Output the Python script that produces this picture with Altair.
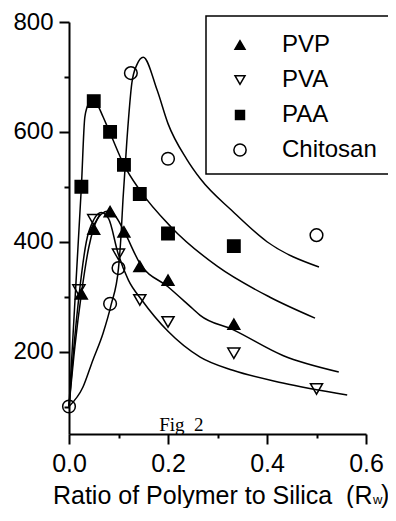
import altair as alt
import pandas as pd

series_names = ["PVP", "PVA", "PAA", "Chitosan"]
series_shapes = ["triangle-up", "triangle-down", "square", "circle"]
series_fills = ["black", "transparent", "black", "transparent"]
series_sizes = [140, 160, 150, 260]

# measured points
pvp_x = [0.025, 0.05, 0.083, 0.111, 0.143, 0.2, 0.333]
pvp_y = [305, 423, 455, 418, 355, 330, 250]
pva_x = [0.02, 0.05, 0.1, 0.143, 0.2, 0.333, 0.5]
pva_y = [312, 440, 377, 294, 254, 197, 132]
paa_x = [0.025, 0.05, 0.083, 0.111, 0.143, 0.2, 0.333]
paa_y = [500, 656, 600, 540, 487, 415, 392]
chi_x = [0.0, 0.083, 0.1, 0.125, 0.2, 0.5]
chi_y = [100, 287, 352, 707, 551, 412]

# fitted curves
pvp_fit_x = [0, 0.012, 0.025, 0.04, 0.05, 0.065, 0.08, 0.095, 0.113, 0.143, 0.2, 0.25, 0.265, 0.331, 0.432, 0.545]
pvp_fit_y = [100, 210, 305, 390, 425, 450, 456, 445, 416, 361, 318, 278, 266, 240, 193, 163]
pva_fit_x = [0, 0.01, 0.02, 0.035, 0.05, 0.065, 0.08, 0.099, 0.12, 0.147, 0.2, 0.265, 0.331, 0.432, 0.562]
pva_fit_y = [100, 210, 300, 400, 440, 453, 442, 379, 330, 294, 237, 190, 166, 143, 121]
paa_fit_x = [0, 0.01, 0.02, 0.025, 0.032, 0.04, 0.05, 0.06, 0.069, 0.083, 0.111, 0.143, 0.206, 0.3, 0.406, 0.497]
paa_fit_y = [100, 260, 420, 500, 627, 652, 660, 645, 627, 598, 540, 494, 427, 355, 299, 261]
chi_fit_x = [0, 0.028, 0.048, 0.069, 0.085, 0.1, 0.105, 0.109, 0.117, 0.127, 0.137, 0.15, 0.178, 0.2, 0.238, 0.265, 0.331, 0.4, 0.505]
chi_fit_y = [100, 135, 184, 234, 285, 352, 410, 476, 585, 689, 722, 736, 676, 615, 550, 515, 455, 400, 354]

x_ticks = [0.0, 0.1, 0.2, 0.3, 0.4, 0.5, 0.6]
y_ticks = [100, 200, 300, 400, 500, 600, 700, 800]

caption_text = ["Fig\u00a0\u00a02"]
caption_x = [0.227]
caption_y = [56]

FONT = "Liberation Sans"

pts_rows = []
for name, xs, ys in [("PVP", pvp_x, pvp_y), ("PVA", pva_x, pva_y),
                     ("PAA", paa_x, paa_y), ("Chitosan", chi_x, chi_y)]:
    for a, b in zip(xs, ys):
        pts_rows.append({"series": name, "x": a, "y": b})
pts = pd.DataFrame(pts_rows)

fit_rows = []
for name, xs, ys in [("PVP", pvp_fit_x, pvp_fit_y), ("PVA", pva_fit_x, pva_fit_y),
                     ("PAA", paa_fit_x, paa_fit_y), ("Chitosan", chi_fit_x, chi_fit_y)]:
    for i, (a, b) in enumerate(zip(xs, ys)):
        fit_rows.append({"series": name, "x": a, "y": b, "o": i})
fits = pd.DataFrame(fit_rows)

xscale = alt.Scale(domain=[0, 0.6], nice=False, zero=False)
yscale = alt.Scale(domain=[50, 800], nice=False, zero=False)

xaxis = alt.Axis(
    values=x_ticks, format=".1f",
    labelExpr="round(datum.value*10) % 2 === 0 ? datum.label : ''",
    tickSize={"condition": {"test": "round(datum.value*10) % 2 === 0", "value": 10}, "value": 4},
    labelFontSize=25, labelFont=FONT, labelColor="black", labelPadding=7,
    tickColor="black", tickWidth=2, domainColor="black", domainWidth=2,
    grid=False, labelFlush=False, labelOverlap=False,
    title="Ratio of Polymer to Silica\u00a0\u00a0(R", titleFont=FONT, titleFontSize=25,
    titleFontWeight="normal", titleColor="black", titleAlign="right",
    titleBaseline="alphabetic", titleX=303, titleY=69, titleAnchor="start",
)
yaxis = alt.Axis(
    values=y_ticks,
    labelExpr="datum.value % 200 === 0 ? datum.label : ''",
    tickSize={"condition": {"test": "datum.value % 200 === 0", "value": 10}, "value": 5},
    labelFontSize=24, labelFont=FONT, labelColor="black", labelPadding=6,
    tickColor="black", tickWidth=2, domainColor="black", domainWidth=2,
    grid=False, labelFlush=False, labelOverlap=False, title=None,
)

lines = alt.Chart(fits).mark_line(color="black", strokeWidth=1.5, interpolate="monotone").encode(
    x=alt.X("x:Q", scale=xscale, axis=xaxis),
    y=alt.Y("y:Q", scale=yscale, axis=yaxis),
    detail="series:N",
    order="o:Q",
)

points = alt.Chart(pts).mark_point(stroke="black", strokeWidth=1.5, opacity=1).encode(
    x=alt.X("x:Q", scale=xscale),
    y=alt.Y("y:Q", scale=yscale),
    shape=alt.Shape("series:N", scale=alt.Scale(domain=series_names, range=series_shapes), legend=None),
    fill=alt.Fill("series:N", scale=alt.Scale(domain=series_names, range=series_fills), legend=None),
    size=alt.Size("series:N", scale=alt.Scale(domain=series_names, range=series_sizes), legend=None),
)

caption = alt.Chart(pd.DataFrame({"t": caption_text, "x": caption_x, "y": caption_y})).mark_text(
    font="Liberation Serif", fontSize=19, color="black", align="center", baseline="alphabetic"
).encode(x=alt.X("x:Q", scale=xscale), y=alt.Y("y:Q", scale=yscale), text="t:N")

one = pd.DataFrame({"t": [""]})

sub_w = alt.Chart(pd.DataFrame({"t": ["w"]})).mark_text(
    font=FONT, fontSize=13, color="black", align="left", baseline="alphabetic"
).encode(x=alt.value(304), y=alt.value(482), text="t:N")

close_paren = alt.Chart(pd.DataFrame({"t": [")"]})).mark_text(
    font=FONT, fontSize=25, color="black", align="left", baseline="alphabetic"
).encode(x=alt.value(312), y=alt.value(481), text="t:N")

# legend (drawn by hand: box, symbols, labels)
legend_box = alt.Chart(one).mark_rect(fill="white", stroke="black", strokeWidth=1.5).encode(
    x=alt.value(137), x2=alt.value(340), y=alt.value(-6), y2=alt.value(152)
)
legend_layers = [legend_box]
legend_sym_sizes = [100, 100, 80, 150]
for i, name in enumerate(series_names):
    ry = 23 + i * 35
    filled = series_fills[i] != "transparent"
    sym = alt.Chart(pd.DataFrame({"series": [name]})).mark_point(
        shape=series_shapes[i], filled=filled, fill=series_fills[i], stroke="black",
        strokeWidth=1.5, size=legend_sym_sizes[i], opacity=1
    ).encode(x=alt.value(171), y=alt.value(ry))
    lab = alt.Chart(pd.DataFrame({"series": [name]})).mark_text(
        font=FONT, fontSize=24, color="black", align="left", baseline="middle"
    ).encode(x=alt.value(213), y=alt.value(ry), text="series:N")
    legend_layers += [sym, lab]

chart = alt.layer(lines, points, caption, sub_w, close_paren, *legend_layers).properties(
    width=297, height=412,
    autosize=alt.AutoSizeParams(type="none"),
    padding={"left": 61, "top": 14, "right": 22, "bottom": 74},
    background="white",
).configure_view(stroke=None)

chart.save("out.html", embed_options={"renderer": "svg", "actions": False})
